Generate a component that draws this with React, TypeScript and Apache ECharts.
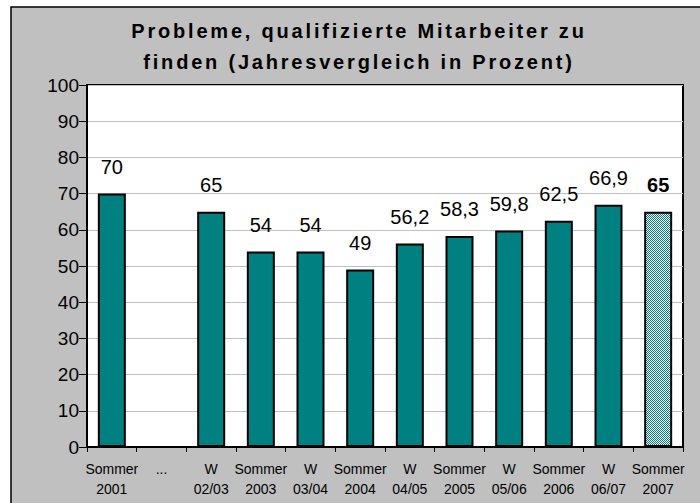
import React, { useEffect, useRef } from "react";
import * as echarts from "echarts";

const categories = [
  "Sommer\n2001",
  "...\n ",
  "W\n02/03",
  "Sommer\n2003",
  "W\n03/04",
  "Sommer\n2004",
  "W\n04/05",
  "Sommer\n2005",
  "W\n05/06",
  "Sommer\n2006",
  "W\n06/07",
  "Sommer\n2007",
];
const values: (number | null)[] = [70, null, 65, 54, 54, 49, 56.2, 58.3, 59.8, 62.5, 66.9, 65];
const yTicks = [0, 10, 20, 30, 40, 50, 60, 70, 80, 90, 100];
const titleLines = ["Probleme, qualifizierte Mitarbeiter zu", "finden (Jahresvergleich in Prozent)"];

const FONT = "'Liberation Sans', Arial, sans-serif";

export default function App() {
  const ref = useRef<HTMLDivElement>(null);
  useEffect(() => {
    document.body.style.margin = "0";
    if (!ref.current) return;
    const el = ref.current;
    const chart = echarts.init(el, null, { renderer: "svg" });

    const pc = document.createElement("canvas");
    pc.width = 2;
    pc.height = 2;
    const ctx = pc.getContext("2d")!;
    ctx.fillStyle = "#ffffff";
    ctx.fillRect(0, 0, 2, 2);
    ctx.fillStyle = "#008080";
    ctx.fillRect(0, 0, 1, 1);
    ctx.fillRect(1, 1, 1, 1);

    const last = values.length - 1;
    const data = values.map((v, i) =>
      i === last
        ? {
            value: v,
            itemStyle: { color: { image: pc, repeat: "repeat" } as any },
            label: { fontWeight: "bold" as const },
          }
        : { value: v }
    );

    chart.setOption({
      animation: false,
      backgroundColor: "#ffffff",
      textStyle: { fontFamily: FONT },
      graphic: [
        {
          type: "rect",
          z: -10,
          shape: { x: 11, y: 7, width: 720, height: 520 },
          style: { fill: "#c0c0c0", stroke: "#000000", lineWidth: 1.5 },
          silent: true,
        },
        {
          type: "text",
          x: 359,
          y: 15,
          style: {
            text: titleLines.join("\n"),
            font: `bold 20px ${FONT}`,
            fill: "#000000",
            textAlign: "center",
            lineHeight: 31,
          },
        },
      ],
      grid: {
        left: 87,
        top: 85,
        width: 596,
        height: 362,
        show: true,
        backgroundColor: "#ffffff",
        borderColor: "#000000",
        borderWidth: 2,
        containLabel: false,
      },
      xAxis: {
        type: "category",
        data: categories,
        boundaryGap: true,
        axisLine: { show: true, lineStyle: { color: "#000000", width: 2 } },
        axisTick: { show: true, alignWithLabel: false, length: 5, lineStyle: { color: "#000000" } },
        axisLabel: {
          interval: 0,
          color: "#000000",
          fontSize: 14,
          lineHeight: 20,
          margin: 12,
          fontFamily: FONT,
        },
      },
      yAxis: {
        type: "value",
        min: 0,
        max: 100,
        interval: 10,
        axisLine: { show: true, lineStyle: { color: "#000000", width: 2 } },
        axisTick: { show: true, length: 8, lineStyle: { color: "#000000" } },
        axisLabel: {
          color: "#000000",
          fontSize: 19,
          margin: 8,
          fontFamily: FONT,
          formatter: (v: number) => (yTicks.includes(v) ? String(v) : ""),
        },
        splitLine: { show: true, lineStyle: { color: "#c0c0c0", width: 1 } },
      },
      series: [
        {
          type: "bar",
          data,
          barWidth: 28,
          itemStyle: { color: "#008080", borderColor: "#000000", borderWidth: 2 },
          label: {
            show: true,
            position: "top",
            distance: 17,
            color: "#000000",
            fontSize: 20,
            fontFamily: FONT,
            formatter: (p: any) => String(p.value).replace(".", ","),
          },
        },
      ],
    });

    const spaceTitle = () => {
      el.querySelectorAll("text").forEach((t) => {
        const s = (t.textContent || "").trim();
        if (titleLines.includes(s)) {
          (t as SVGTextElement).style.letterSpacing = "2.8px";
        }
      });
    };
    spaceTitle();
    chart.on("finished", spaceTitle);
    const timer = setTimeout(spaceTitle, 50);

    return () => {
      clearTimeout(timer);
      chart.dispose();
    };
  }, []);
  return <div ref={ref} style={{ width: 700, height: 503 }} />;
}
